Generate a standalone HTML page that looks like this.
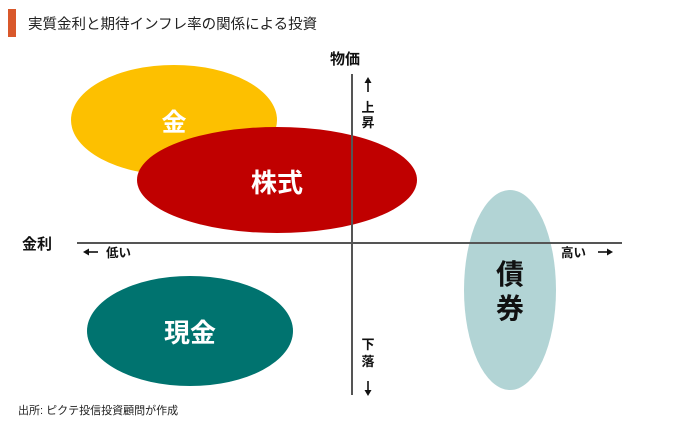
<!DOCTYPE html>
<html><head><meta charset="utf-8"><style>
body{margin:0;background:#fff}
</style></head><body>
<svg width="680" height="423" xmlns="http://www.w3.org/2000/svg" style="display:block;font-family:'Liberation Sans','Noto Sans CJK JP',sans-serif">
<rect x="8" y="9" width="8" height="28" fill="#D9582B"/>
<text x="28" y="29" font-size="14.5" fill="#222">実質金利と期待インフレ率の関係による投資</text>
<ellipse cx="174" cy="120" rx="103" ry="55" fill="#FDC000"/>
<ellipse cx="277" cy="180" rx="140" ry="53" fill="#C00000"/>
<ellipse cx="190" cy="331" rx="103" ry="55" fill="#00736F"/>
<ellipse cx="510" cy="290" rx="46" ry="100" fill="#B2D4D5"/>
<line x1="77" y1="243" x2="622" y2="243" stroke="#555" stroke-width="2"/>
<line x1="352" y1="74" x2="352" y2="395" stroke="#555" stroke-width="2"/>
<g stroke="#111" stroke-width="1.6" fill="#111">
<line x1="368" y1="80" x2="368" y2="92"/><path d="M364.5 83 L368 77 L371.5 83 Z" stroke="none"/>
<line x1="368" y1="381" x2="368" y2="393"/><path d="M364.5 390 L368 396 L371.5 390 Z" stroke="none"/>
<line x1="86" y1="252" x2="98" y2="252"/><path d="M89 248.5 L83 252 L89 255.5 Z" stroke="none"/>
<line x1="598" y1="252" x2="610" y2="252"/><path d="M607 248.5 L613 252 L607 255.5 Z" stroke="none"/>
</g>
<g font-weight="bold" fill="#111">
<text x="330" y="64" font-size="15">物価</text>
<text x="368" y="112" font-size="13" text-anchor="middle">上</text>
<text x="368" y="127" font-size="13" text-anchor="middle">昇</text>
<text x="368" y="349" font-size="13" text-anchor="middle">下</text>
<text x="368" y="366" font-size="13" text-anchor="middle">落</text>
<text x="22" y="249" font-size="15">金利</text>
<text x="106" y="257" font-size="12.5">低い</text>
<text x="561" y="257" font-size="12.5">高い</text>
</g>
<g font-weight="bold" fill="#fff" text-anchor="middle">
<text x="174" y="131" font-size="25">金</text>
<text x="277" y="192" font-size="26">株式</text>
<text x="190" y="342" font-size="26">現金</text>
</g>
<g fill="#111" text-anchor="middle" font-size="28" font-weight="bold">
<text x="510" y="284">債</text>
<text x="510" y="318">券</text>
</g>
<text x="18" y="414" font-size="11" fill="#222">出所: ピクテ投信投資顧問が作成</text>
</svg>
</body></html>
